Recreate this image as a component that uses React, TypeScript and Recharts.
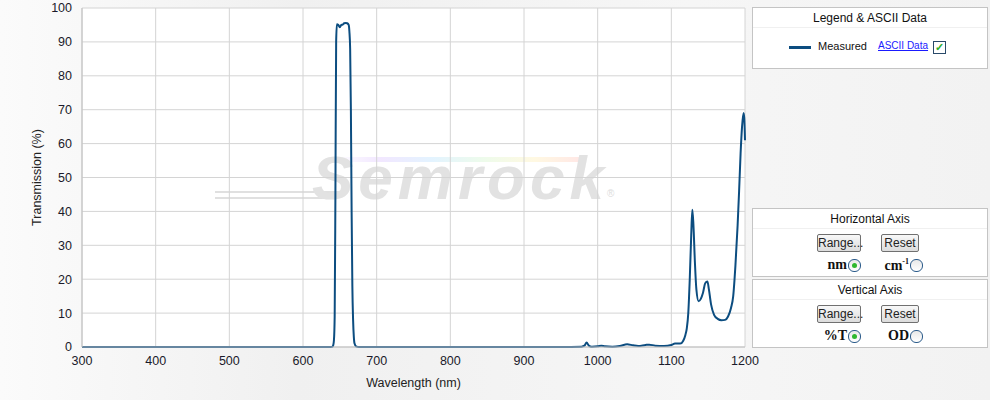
import React from 'react';
import { LineChart, Line, XAxis, YAxis, CartesianGrid, Label } from 'recharts';

const wavelengths = [
  300, 600, 638, 640, 641, 642, 643, 644, 645, 646, 648, 650, 652, 654, 656, 658, 660, 662, 663, 664, 665, 666, 667,
  668, 669, 670, 672, 676, 700, 950, 978, 982, 985, 988, 992, 1000, 1005, 1010, 1020, 1030, 1040, 1048, 1055, 1065,
  1070, 1078, 1090, 1100, 1105, 1112, 1116, 1119, 1121, 1123, 1125, 1127, 1128.5, 1130, 1132, 1134, 1137, 1140, 1143,
  1146, 1149, 1151, 1154, 1158, 1163, 1168, 1173, 1177, 1181, 1184, 1187, 1190, 1192, 1194, 1196, 1198, 1199, 1200,
];
const transmission = [
  0, 0, 0, 0.1, 0.5, 2, 9, 45, 90, 95.2, 95, 94.3, 95, 95.1, 95.5, 95.6, 95.5, 95, 93, 88, 70, 40, 18,
  8, 3, 1, 0.2, 0, 0, 0, 0.1, 0.4, 1.3, 0.4, 0.1, 0.2, 0.35, 0.2, 0.1, 0.3, 0.8, 0.5, 0.3, 0.6,
  0.7, 0.4, 0.3, 0.6, 1.0, 1.0, 1.8, 3.5, 5.5, 10, 20, 33, 40.5, 36, 25, 17, 13.5, 14.2, 16,
  18.8, 19.3, 17, 12.5, 9.5, 8.3, 7.9, 8.0, 9, 11.5, 15, 24, 36, 46, 57, 65, 69, 67.5, 61,
];
const xTicks = [300, 400, 500, 600, 700, 800, 900, 1000, 1100, 1200];
const yTicks = [0, 10, 20, 30, 40, 50, 60, 70, 80, 90, 100];

const data = wavelengths.map((w, i) => ({ w, t: transmission[i] }));

const FONT = '"Liberation Sans", Arial, sans-serif';

const panel: React.CSSProperties = {
  position: 'absolute',
  left: 752,
  width: 234,
  background: '#fff',
  border: '1px solid #c4c4c4',
  fontFamily: FONT,
  fontSize: 12,
  color: '#111',
};

const panelTitle: React.CSSProperties = {
  textAlign: 'center',
  height: 19,
  lineHeight: '20px',
  borderBottom: '1px solid #f0f0f0',
};

const btn: React.CSSProperties = {
  position: 'absolute',
  height: 16,
  lineHeight: '16px',
  fontSize: 12,
  textAlign: 'center',
  background: 'linear-gradient(#f8f8f8, #dcdcdc)',
  border: '1px solid #707070',
  borderRadius: 2,
  color: '#222',
};

const Radio = ({ x, y, on }: { x: number; y: number; on: boolean }) => (
  <div
    style={{
      position: 'absolute',
      left: x,
      top: y,
      width: 11,
      height: 11,
      borderRadius: 6,
      border: '1px solid #2a5a8a',
      background: 'linear-gradient(#e8e8e8, #ffffff)',
    }}
  >
    {on && (
      <div style={{ position: 'absolute', left: 3, top: 3, width: 5, height: 5, borderRadius: 3, background: '#2eb82e' }} />
    )}
  </div>
);

const AxisPanel = ({ top, title, a, b }: { top: number; title: string; a: React.ReactNode; b: React.ReactNode }) => (
  <div style={{ ...panel, top, height: 67 }}>
    <div style={panelTitle}>{title}</div>
    <div style={{ ...btn, left: 64, top: 25, width: 42 }}>Range...</div>
    <div style={{ ...btn, left: 128, top: 25, width: 36 }}>Reset</div>
    <div style={{ position: 'absolute', left: 56, top: 48, width: 38, textAlign: 'right', fontFamily: '"Liberation Serif", serif', fontWeight: 'bold', fontSize: 14 }}>{a}</div>
    <Radio x={95} y={50} on={true} />
    <div style={{ position: 'absolute', left: 116, top: 48, width: 40, textAlign: 'right', fontFamily: '"Liberation Serif", serif', fontWeight: 'bold', fontSize: 14 }}>{b}</div>
    <Radio x={157} y={50} on={false} />
  </div>
);

export default function App() {
  return (
    <div
      style={{
        position: 'absolute',
        left: 0,
        top: 0,
        width: 990,
        height: 400,
        overflow: 'hidden',
        background: 'linear-gradient(to right, #fbfbfb, #f0f0f0 30%, #f6f6f6 70%, #f2f2f2)',
      }}
    >
      {/* plot background */}
      <div style={{ position: 'absolute', left: 82, top: 8, width: 663, height: 339, background: '#fff' }} />
      {/* watermark */}
      <div style={{ position: 'absolute', left: 215, top: 191, width: 125, height: 2, background: '#e0e0e0' }} />
      <div style={{ position: 'absolute', left: 215, top: 197, width: 120, height: 2, background: '#e0e0e0' }} />
      <div
        style={{
          position: 'absolute',
          left: 330,
          top: 157,
          width: 255,
          height: 5,
          opacity: 0.25,
          background: 'linear-gradient(to right, #ffffff, #c9a0ff, #8fd0ff, #b8f0b0, #ffe58a, #ff9a9a)',
        }}
      />
      <div
        style={{
          position: 'absolute',
          left: 312,
          top: 143,
          fontFamily: FONT,
          fontStyle: 'italic',
          fontWeight: 'bold',
          fontSize: 62,
          letterSpacing: 5,
          color: '#e2e2e2',
          lineHeight: '70px',
        }}
      >
        Semrock
      </div>
      <div style={{ position: 'absolute', left: 607, top: 188, fontFamily: FONT, fontSize: 10, color: '#dcdcdc' }}>®</div>

      <div style={{ position: 'absolute', left: 0, top: 0 }}>
        <LineChart width={765} height={400} data={data} margin={{ top: 8, right: 20, left: 0, bottom: 23 }}>
          <CartesianGrid stroke="#d4d4d4" vertical={true} horizontal={true} />
          <XAxis
            dataKey="w"
            type="number"
            domain={[300, 1200]}
            ticks={xTicks}
            height={30}
            tickLine={false}
            axisLine={{ stroke: '#c0c0c0' }}
            tick={{ fill: '#1a1a2a', fontSize: 12.5, fontFamily: FONT }}
            tickMargin={3}
            interval={0}
          >
            <Label value="Wavelength (nm)" position="insideBottom" offset={-10} fill="#222" fontSize={12.5} fontFamily={FONT} />
          </XAxis>
          <YAxis
            type="number"
            domain={[0, 100]}
            ticks={yTicks}
            width={82}
            tickLine={false}
            axisLine={{ stroke: '#c0c0c0' }}
            tick={{ fill: '#1a1a2a', fontSize: 12.5, fontFamily: FONT }}
            tickMargin={4}
            interval={0}
          >
            <Label value="Transmission (%)" angle={-90} position="insideLeft" offset={37} fill="#222" fontSize={12.5} fontFamily={FONT} style={{ textAnchor: 'middle' }} />
          </YAxis>
          <Line
            type="monotone"
            dataKey="t"
            stroke="#0c4d80"
            strokeWidth={2}
            dot={false}
            isAnimationActive={false}
          />
        </LineChart>
      </div>

      {/* Legend panel */}
      <div style={{ ...panel, top: 7, height: 60 }}>
        <div style={panelTitle}>Legend &amp; ASCII Data</div>
        <div style={{ position: 'absolute', left: 36, top: 38, width: 22, height: 3, background: '#0c4d80' }} />
        <div style={{ position: 'absolute', left: 65, top: 32, fontSize: 11 }}>Measured</div>
        <div style={{ position: 'absolute', left: 125, top: 32, fontSize: 10, color: '#1a1aff', textDecoration: 'underline' }}>ASCII Data</div>
        <div
          style={{
            position: 'absolute',
            left: 180,
            top: 33,
            width: 11,
            height: 11,
            border: '1px solid #2a4a6a',
            background: '#fff',
            color: '#2eae2e',
            fontSize: 11,
            lineHeight: '11px',
            textAlign: 'center',
            fontWeight: 'bold',
          }}
        >
          ✓
        </div>
      </div>

      <AxisPanel top={208} title="Horizontal Axis" a="nm" b={<span>cm<sup style={{ fontSize: 8 }}>-1</sup></span>} />
      <AxisPanel top={279} title="Vertical  Axis" a="%T" b="OD" />
    </div>
  );
}
